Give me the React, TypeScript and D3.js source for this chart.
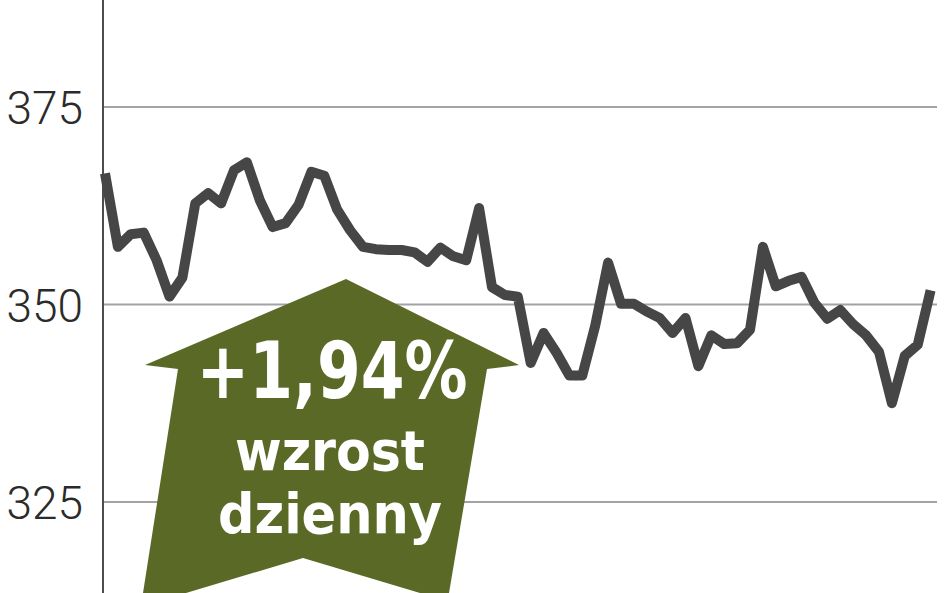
import * as d3 from "d3";
import React, { useEffect } from "react";

// daily closing prices, one per trading session
const prices = [
  366.6, 357.3, 358.9, 359.1, 355.6, 351.0, 353.4, 362.8, 364.1, 362.8,
  367.0, 368.0, 363.2, 359.8, 360.3, 362.6, 366.8, 366.3, 362.0, 359.4,
  357.3, 357.0, 356.9, 356.9, 356.6, 355.4, 357.2, 356.1, 355.6, 362.2,
  352.2, 351.2, 351.0, 342.6, 346.4, 343.9, 341.0, 341.0, 347.3, 355.3,
  350.1, 350.1, 349.1, 348.3, 346.4, 348.3, 342.2, 346.1, 345.0, 345.1,
  346.8, 357.3, 352.3, 353.0, 353.5, 350.2, 348.2, 349.3, 347.5, 346.1,
  344.0, 337.5, 343.5, 344.9, 351.8,
];
const yTicks = [325, 350, 375];
const badgeLines = ["+1,94%", "wzrost", "dzienny"];

var W = 948;
var H = 593;

export default function App() {
  useEffect(() => {
    document.body.style.margin = "0";
  }, []);

  const x = d3.scaleLinear().domain([0, prices.length - 1]).range([105, 930.6]);
  const y = d3.scaleLinear().domain([325, 375]).range([502, 107]);

  const line = d3
    .line<number>()
    .x((d, i) => x(i))
    .y((d) => y(d));

  // arrow badge outline
  const arrow: [number, number][] = [
    [346, 279],
    [519, 365],
    [487, 369],
    [449, 593],
    [420, 593],
    [303, 558],
    [186, 593],
    [143, 593],
    [178, 369],
    [145, 365],
  ];
  const arrowPath = d3.line()(arrow) + "Z";

  return (
    <svg width={W} height={H} style={{ display: "block", background: "#fff" }}>
      {yTicks.map((t) => (
        <g key={t}>
          <line x1={102} x2={937} y1={y(t)} y2={y(t)} stroke="#a3a3a3" strokeWidth={2} />
          <text
            x={83}
            y={y(t) + 17}
            textAnchor="end"
            fontFamily="Roboto, 'DejaVu Sans', sans-serif"
            fontWeight={300}
            fontSize={46}
            fill="#2b2b2b"
          >
            {t}
          </text>
        </g>
      ))}
      <line x1={103} x2={103} y1={0} y2={H} stroke="#4d4d4d" strokeWidth={2} />

      <path d={arrowPath} fill="#5a6a26" />
      <g
        fill="#ffffff"
        fontFamily="'DejaVu Sans Condensed', 'DejaVu Sans', sans-serif"
        fontWeight="bold"
        textAnchor="middle"
      >
        <text x={332} y={398} fontSize={78} textLength={271} lengthAdjust="spacingAndGlyphs">
          {badgeLines[0]}
        </text>
        <text x={330} y={470} fontSize={55} textLength={190} lengthAdjust="spacingAndGlyphs">
          {badgeLines[1]}
        </text>
        <text x={330} y={533} fontSize={55} textLength={224} lengthAdjust="spacingAndGlyphs">
          {badgeLines[2]}
        </text>
      </g>

      <path
        d={line(prices) || ""}
        fill="none"
        stroke="#464646"
        strokeWidth={10}
        strokeLinejoin="round"
      />
    </svg>
  );
}
